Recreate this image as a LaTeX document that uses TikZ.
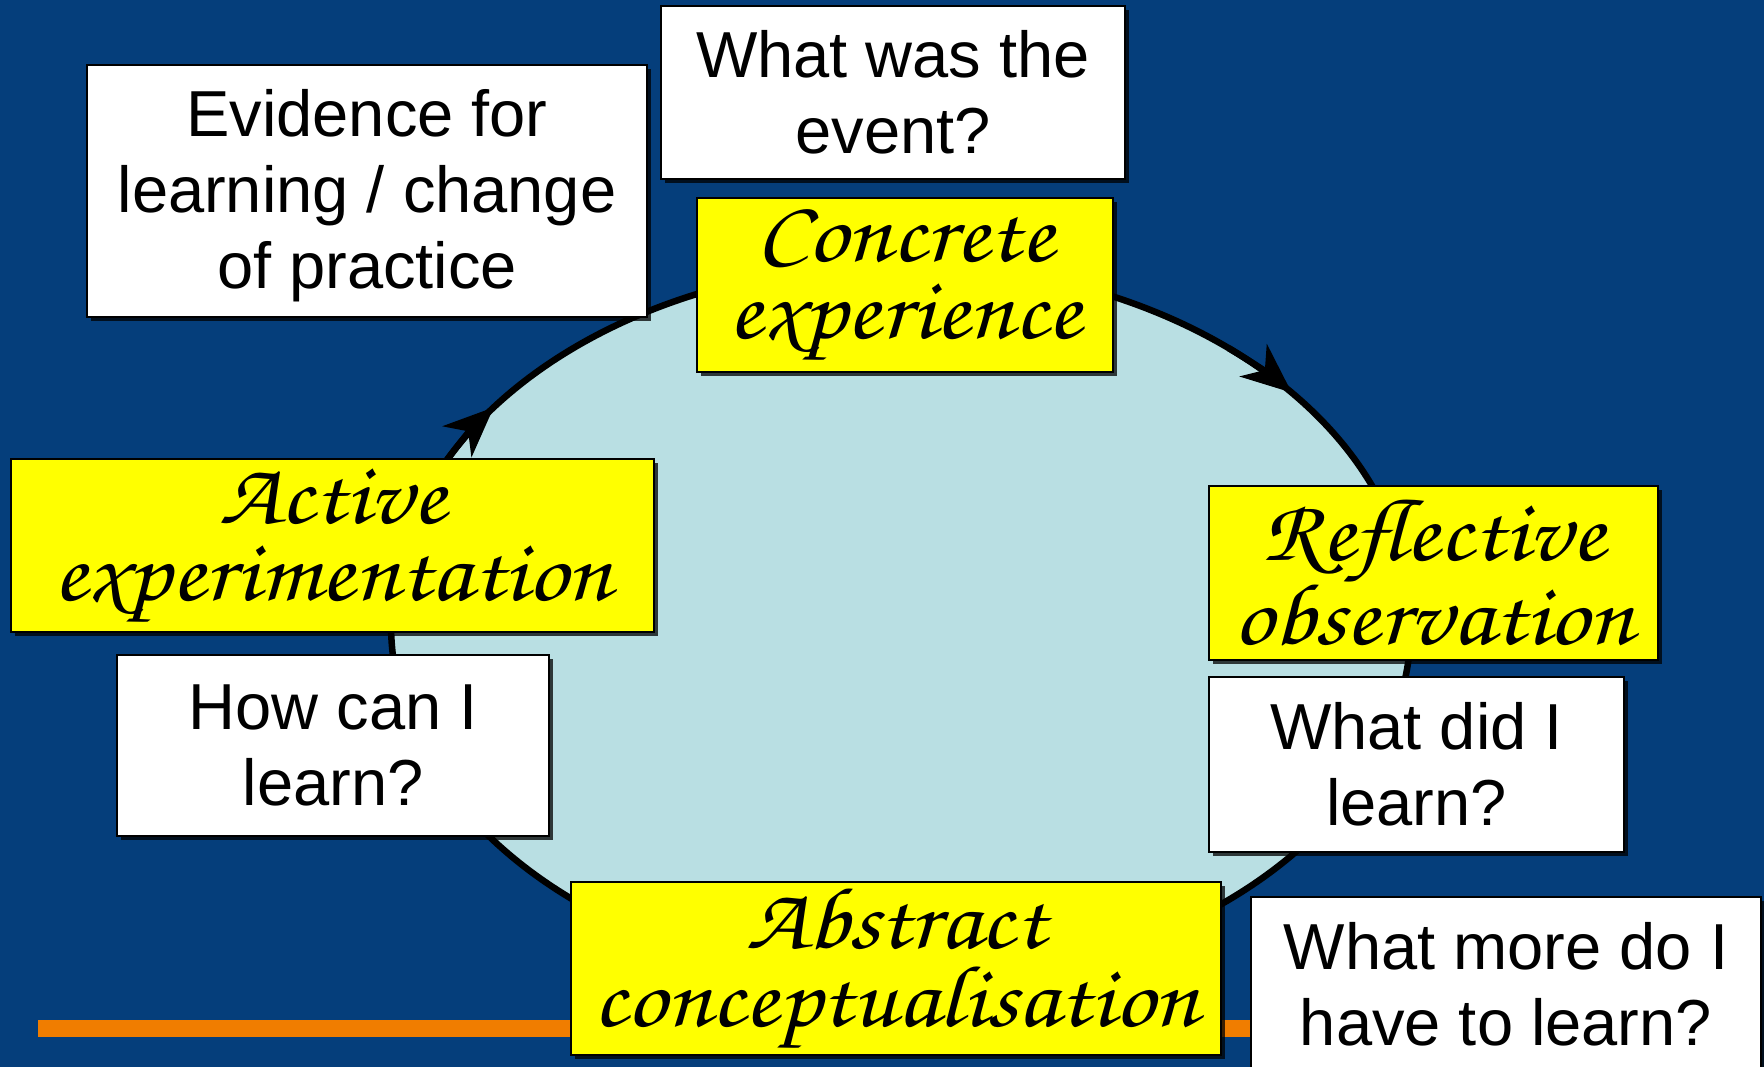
\documentclass[tikz,border=0pt]{standalone}
\usepackage{fontspec}
\setmainfont{Liberation Sans}
\newfontfamily\hand[FakeStretch=1.12]{texgyrechorus-mediumitalic.otf}
\usetikzlibrary{arrows.meta,shadows}
\definecolor{navy}{HTML}{053E7B}
\definecolor{paleblue}{HTML}{B9DFE3}
\definecolor{orangebar}{HTML}{F07D00}
\definecolor{boxyellow}{HTML}{FFFF00}
\tikzset{
  card/.style={draw=black, line width=0.2mm, rectangle, inner sep=0pt, align=center,
    drop shadow={shadow xshift=0.35mm, shadow yshift=-0.35mm, fill=black, opacity=0.75}},
  questionfont/.style={font=\fontsize{18.5}{21.6}\selectfont, align=center},
  question/.style={card, fill=white, questionfont},
  stage/.style={card, fill=boxyellow, font=\hand\fontsize{25}{22}\selectfont},
  cyclearrow/.style={line width=0.65mm, -{Stealth[length=5mm, width=4.2mm, inset=1.5mm]}}
}
\begin{document}
\begin{tikzpicture}[x=0.1mm,y=-0.1mm]
  \useasboundingbox (0,0) rectangle (1764,1067);
  \fill[navy] (0,0) rectangle (1764,1067);

  % learning cycle
  \coordinate (c) at (901,624);
  \draw[line width=0.65mm, fill=paleblue] (c) ellipse [x radius=51mm, y radius=36mm];
  \draw[cyclearrow] ([shift={(50:51mm and 36mm)}]c) arc[start angle=50, end angle=40, x radius=51mm, y radius=36mm];
  \draw[cyclearrow] ([shift={(153:51mm and 36mm)}]c) arc[start angle=153, end angle=143, x radius=51mm, y radius=36mm];

  % footer bar
  \fill[orangebar] (38,1020) rectangle (1251,1037);

  % questions
  \node[card, fill=white, minimum width=56mm, minimum height=25.2mm] (evidence) at (367,191) {};
  \node[questionfont] (evidencetext) at (367,195.5) {Evidence for\\learning / change\\of practice};
  \node[question, minimum width=46.4mm, minimum height=17.3mm] (event) at (893,92.5) {What was the\\event?};
  \node[question, minimum width=41.5mm, minimum height=17.5mm] (whatdid) at (1416.5,764.5) {What did I\\learn?};
  \node[question, minimum width=51mm, minimum height=17.4mm] (whatmore) at (1506,984) {What more do I\\have to learn?};
  \node[question, minimum width=43.2mm, minimum height=18.1mm] (howcan) at (333,745.5) {How can I\\learn?};

  % stages
  \node[stage, minimum width=41.6mm, minimum height=17.4mm] (concrete) at (905,285) {Concrete\\experience};
  \node[stage, minimum width=44.9mm, minimum height=17.4mm] (reflective) at (1433.5,573) {Reflective\\observation};
  \node[stage, minimum width=65mm, minimum height=17.3mm] (abstract) at (896,968.5) {Abstract\\conceptualisation};
  \node[stage, minimum width=64.3mm, minimum height=17.3mm] (active) at (332.5,545.5) {Active\\experimentation};
\end{tikzpicture}
\end{document}
